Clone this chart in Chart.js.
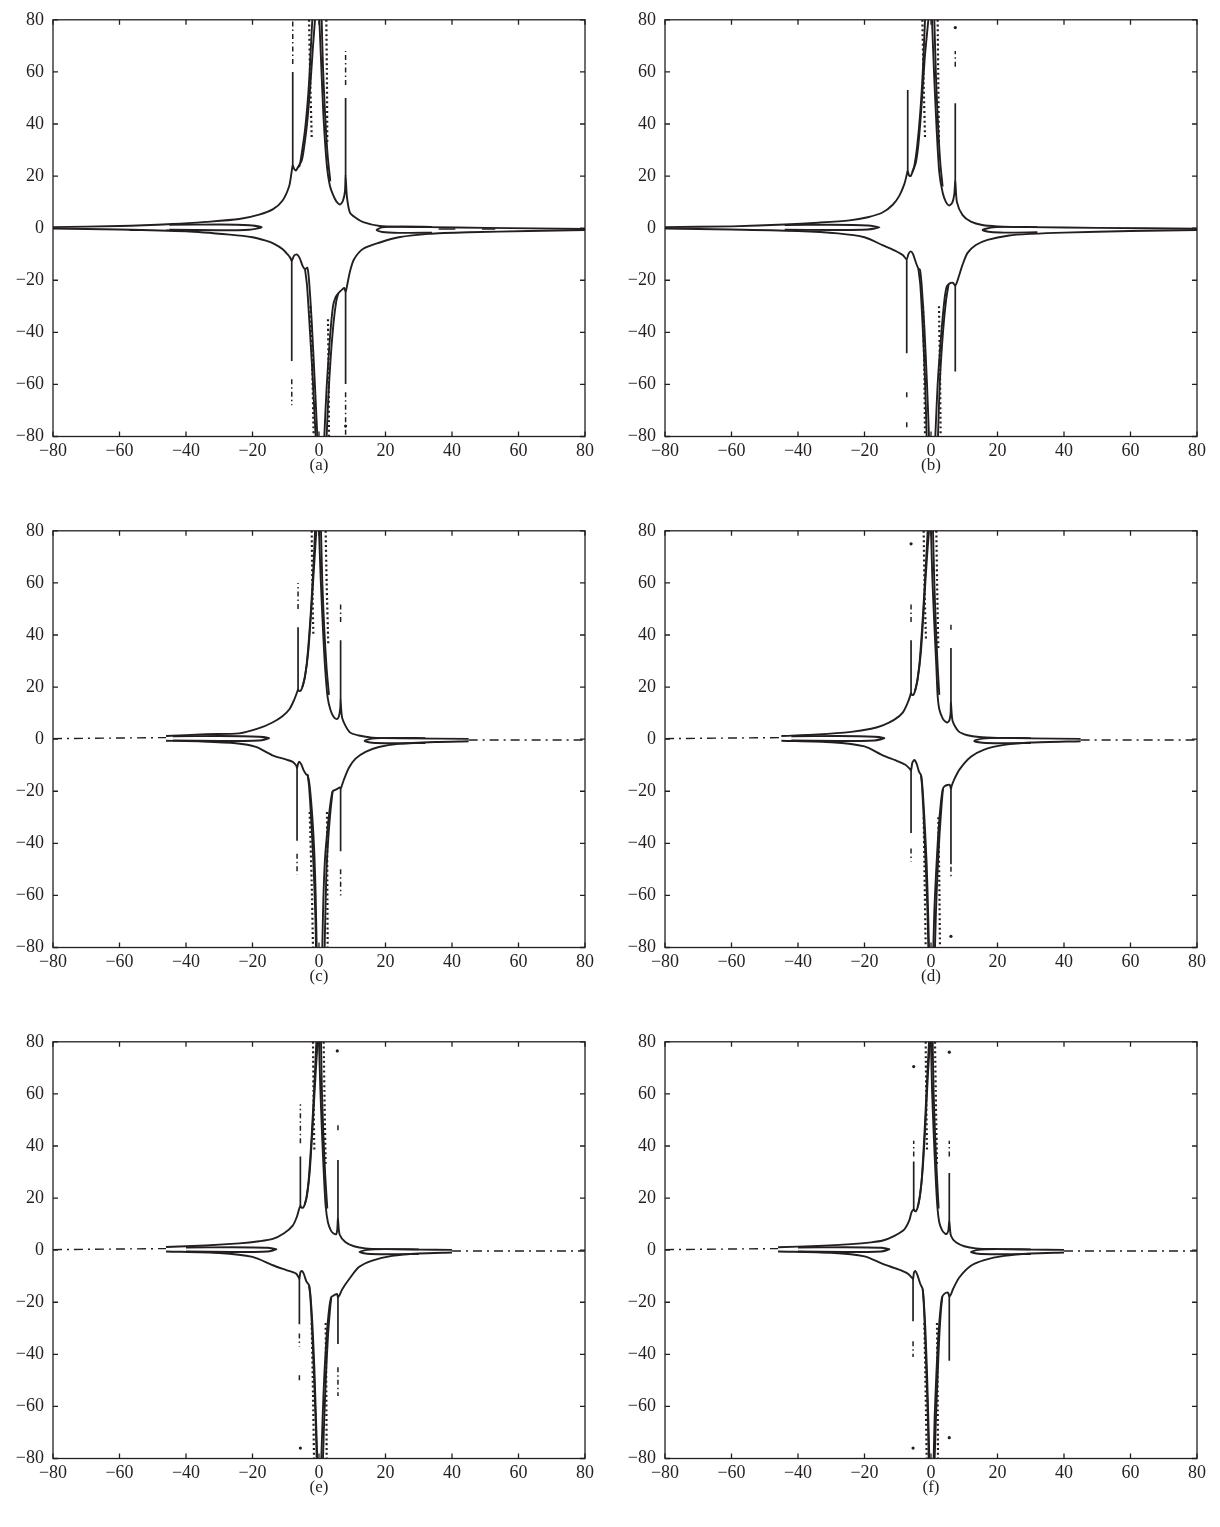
<!DOCTYPE html>
<html>
<head>
<meta charset="utf-8">
<script src="https://cdn.jsdelivr.net/npm/chart.js@4.4.1/dist/chart.umd.min.js"></script>
<style>
body { margin: 0; background: #fff; width: 1220px; height: 1527px; position: relative; font-family: "Liberation Serif", serif; }
canvas { position: absolute; }
.cap { position: absolute; width: 60px; text-align: center; font-family: "Liberation Serif", serif; font-size: 17px; line-height: 20px; color: #231f20; }
</style>
</head>
<body>
<canvas id="pa" width="600" height="469" style="left:0;top:0;width:600px;height:469px"></canvas>
<canvas id="pb" width="600" height="469" style="left:612px;top:0;width:600px;height:469px"></canvas>
<canvas id="pc" width="600" height="469" style="left:0;top:511px;width:600px;height:469px"></canvas>
<canvas id="pd" width="600" height="469" style="left:612px;top:511px;width:600px;height:469px"></canvas>
<canvas id="pe" width="600" height="469" style="left:0;top:1022px;width:600px;height:469px"></canvas>
<canvas id="pf" width="600" height="469" style="left:612px;top:1022px;width:600px;height:469px"></canvas>
<div class="cap" style="left:289px;top:455px">(a)</div>
<div class="cap" style="left:901px;top:455px">(b)</div>
<div class="cap" style="left:289px;top:966px">(c)</div>
<div class="cap" style="left:901px;top:966px">(d)</div>
<div class="cap" style="left:289px;top:1477px">(e)</div>
<div class="cap" style="left:901px;top:1477px">(f)</div>
<script>
// axis ticks, same on both axes and every panel
const tickValues = [-80, -60, -40, -20, 0, 20, 40, 60, 80];

// ---- panel (a)
const aUpperLeft = [[-80,0.4],[-60,0.8],[-44,1.6],[-34,2.4],[-24,3.5],[-18,5.2],[-13.8,7.3],[-11,10.5],[-9,16],[-8.3,21],[-7.9,24],[-7.4,22.6],[-6.9,22.2],[-6.3,23.4],[-5.9,23.8],[-5.4,27],[-4.2,37.8],[-3.2,52],[-2.7,63],[-2.1,78],[-2.0,80]];
const aUpperLeft2 = [[-6.3,23.4],[-5.2,26],[-4.6,30],[-3.6,40],[-2.6,55],[-1.8,70],[-1.2,80]];
const aUpperRight = [[0.1,80],[0.6,65],[1.3,44],[2.3,25],[3.3,16.2],[4.8,11.2],[5.8,9.4],[6.5,9.2],[7.2,10.5],[7.8,14],[8.0,20],[8.4,12],[9.3,6],[11,4],[13.3,2.3],[18.3,0.8],[25,0.5],[33,0.4],[50,0.1],[65,-0.1],[80,-0.3]];
const aUpperRight2 = [[0.8,80],[1.2,62],[1.9,42],[2.6,28],[3.4,18]];
const aLowerLeft = [[-80,-0.2],[-60,-0.5],[-40,-1.2],[-26.8,-2.5],[-20,-3.5],[-16,-4.8],[-13.5,-6],[-11,-8],[-9.5,-10],[-8.6,-11.5],[-8.2,-12.5],[-7.5,-10.6],[-6.7,-10.1],[-5.8,-11.5],[-4.9,-14.6],[-4.2,-15.8],[-3.5,-15.2],[-3.0,-20],[-2.2,-35.7],[-1.2,-61],[-0.5,-80]];
const aLowerLeft2 = [[-4.2,-15.8],[-3.6,-22],[-2.8,-38],[-2.0,-55],[-1.4,-70],[-1.0,-80]];
const aLowerRight = [[80,-0.7],[63,-1.1],[45,-1.6],[33,-2.2],[24,-3.5],[18.3,-5.5],[13.3,-7.9],[10.5,-12],[9.3,-16.7],[8.3,-23],[8.0,-24.5],[7.6,-23],[7.1,-23.4],[5.8,-25],[5.0,-26.5],[4.2,-30],[3.3,-42],[2.3,-61],[1.6,-80]];
const aLowerRight2 = [[5.8,-25],[5.2,-28],[4.4,-36],[3.5,-50],[2.8,-65],[2.3,-80]];
const aLoopLeft = [[-45,1.3],[-30,1.4],[-21,1.1],[-17.2,0.3],[-21,-0.6],[-30,-0.8],[-45,-0.6]];
const aLoopRight = [[34,0.5],[24,0.6],[19,0.3],[17.3,-0.7],[19,-1.5],[24,-1.8],[34,-1.7]];
const aSpikes = [[-7.9,24,60],[8.0,20,50],[-8.2,-12.5,-51],[8.0,-24.5,-59.8]];
const aSpikeDashes = [[-7.9,63,80],[8.0,55,68],[-8.2,-58,-68],[8.0,-63,-80]];
const aDots = [[8.0,-76]];
const aDotted = [[[-3.0,80],[-2.6,55],[-2.2,35]],[[2.2,80],[2.4,55],[2.5,33]],[[-2.6,-30],[-2.0,-55],[-1.6,-80]],[[2.7,-35],[2.9,-55],[3.0,-80]]];
const aMarks = [[-57,-53,-0.8],[-46,-41,-0.8],[36,41,-0.3],[49,53,-0.3]];

// ---- panel (b)
const bUpperLeft = [[-80,0.4],[-60,0.7],[-44,1.4],[-34,2.1],[-24.5,3],[-19,4.2],[-14.6,6],[-11.5,9],[-9.5,12.5],[-8,17],[-7.3,20.5],[-7.0,22],[-6.6,20.2],[-6.1,20],[-5.6,21.5],[-5.0,24],[-4.2,31],[-3.2,45],[-2.4,62],[-1.8,80]];
const bUpperLeft2 = [[-5.6,21.5],[-4.6,25],[-3.8,32],[-2.9,46],[-1.9,65],[-0.8,80]];
const bUpperRight = [[0.3,80],[0.9,60],[1.7,37.8],[2.5,21.3],[3.5,13.7],[4.5,10],[5.5,8.7],[6.4,9.8],[7.0,13],[7.3,18],[7.8,10],[9.5,5],[12,2.5],[15.4,1.2],[20,0.7],[30,0.4],[50,0.1],[80,-0.2]];
const bUpperRight2 = [[1.0,80],[1.5,58],[2.1,40],[2.8,25],[3.5,16]];
const bLowerLeft = [[-80,-0.2],[-60,-0.5],[-40,-1.1],[-28,-2],[-20,-3.5],[-14.6,-6.5],[-11,-8.5],[-8.5,-10.3],[-7.3,-12],[-6.8,-10],[-6.1,-8.9],[-5.4,-10],[-4.6,-13],[-3.8,-15.5],[-3.3,-16],[-2.8,-22],[-2.0,-38],[-1.2,-60],[-0.6,-80]];
const bLowerLeft2 = [[-3.8,-15.5],[-3.2,-22],[-2.5,-38],[-1.8,-58],[-1.3,-80]];
const bLowerRight = [[80,-0.7],[60,-1.1],[40,-1.7],[30,-2.2],[23.5,-2.8],[17,-4.5],[13.5,-6.5],[11,-9.5],[9.5,-14],[8,-20],[7.3,-22],[6.6,-21],[6,-21],[5.3,-21.5],[4.7,-22.5],[4.0,-28],[3.0,-42],[2.0,-60],[1.3,-80]];
const bLowerRight2 = [[5.3,-21.5],[4.5,-28],[3.6,-40],[2.7,-58],[2.1,-80]];
const bLoopLeft = [[-44,1.2],[-30,1.3],[-19,1.0],[-15.5,0.3],[-19,-0.5],[-30,-0.7],[-44,-0.6]];
const bLoopRight = [[32,0.4],[22,0.5],[18,0.2],[15.5,-0.7],[18,-1.5],[22,-1.7],[32,-1.6]];
const bSpikes = [[-7.0,22,53],[7.3,18,48],[-7.3,-12,-48],[7.3,-22,-55]];
const bSpikeDashes = [[7.3,62,68],[-7.3,-63,-66],[-7.3,-74.5,-76.5]];
const bDots = [[7.3,77]];
const bDotted = [[[-2.6,80],[-2.2,55],[-1.8,35]],[[2.0,80],[2.2,55],[2.4,33]],[[-2.4,-30],[-2.0,-55],[-1.8,-80]],[[2.4,-30],[2.7,-55],[2.9,-80]]];

// ---- panel (c)
const cUpperLeft = [[-46,1.2],[-34,1.9],[-24,2.2],[-18,4.2],[-14,6.4],[-11,8.8],[-8.9,11.5],[-7.5,15],[-6.6,18],[-6.3,19],[-6.0,18.5],[-5.5,18.6],[-5.0,20],[-4.4,23],[-3.6,30],[-2.5,48],[-1.6,68],[-1.2,80]];
const cUpperLeft2 = [[-5.0,20],[-4.2,24],[-3.2,34],[-2.3,50],[-1.3,70],[-0.8,80]];
const cUpperRight = [[0.0,80],[0.5,62],[1.2,42],[1.8,28],[2.6,16],[3.5,11],[4.5,8.4],[5.4,7.7],[6.0,8.8],[6.4,12],[6.5,15],[7.0,8],[9.2,2.7],[12,1.4],[16,0.6],[25,0.3],[45,0.1]];
const cUpperRight2 = [[0.6,80],[1.0,60],[1.6,42],[2.3,27],[3.0,17]];
const cLowerLeft = [[-46,-0.6],[-35,-0.9],[-25,-1.6],[-19,-3],[-14,-6.2],[-10,-7.8],[-7.9,-8.7],[-6.9,-10],[-6.6,-11],[-6.3,-9.5],[-6.0,-8.7],[-5.4,-9.5],[-4.6,-12],[-3.8,-13.6],[-3.4,-13.8],[-2.8,-18],[-2.0,-30],[-1.4,-44],[-1.0,-60],[-0.7,-80]];
const cLowerLeft2 = [[-3.4,-13.8],[-3.0,-18],[-2.3,-32],[-1.6,-50],[-1.1,-68],[-0.9,-80]];
const cLowerRight = [[45,-0.8],[35,-1.1],[24,-1.8],[18,-3],[14,-4.9],[11,-7.5],[9,-11],[7.5,-15.5],[6.7,-18.5],[6.5,-19],[6.2,-18.5],[5.6,-19],[4.9,-19.5],[4.1,-20],[3.4,-25],[2.6,-34],[1.8,-46],[1.3,-62],[1.0,-80]];
const cLowerRight2 = [[4.1,-20],[3.5,-27],[2.8,-38],[2.2,-52],[1.7,-80]];
const cLoopLeft = [[-44,1.1],[-30,1.2],[-18,0.9],[-15,0.3],[-18,-0.5],[-30,-0.7],[-44,-0.5]];
const cLoopRight = [[32,0.4],[22,0.5],[16,0.2],[13.7,-0.7],[16,-1.4],[22,-1.6],[32,-1.5]];
const cSpikes = [[-6.3,19,43],[6.5,15,38],[-6.6,-11,-39],[6.5,-19,-43]];
const cSpikeDashes = [[-6.3,50,60],[6.5,45,52],[-6.6,-44,-52],[6.5,-50,-60]];
const cDotted = [[[-2.2,80],[-2.0,60],[-1.7,40]],[[2.0,80],[2.3,60],[2.8,36]],[[-2.8,-28],[-2.2,-55],[-1.8,-80]],[[2.4,-28],[2.5,-55],[2.6,-80]]];
const cTails = [[[-80,0.2],[-46,0.6]],[[45,-0.3],[80,-0.3]]];

// ---- panel (d)
const dUpperLeft = [[-45,1.2],[-34,1.8],[-24,2.8],[-18,4],[-14.5,5.3],[-11,7.5],[-8.5,10.2],[-7,14],[-6.3,16.5],[-6.0,17.8],[-5.8,17],[-5.3,17],[-4.8,18.5],[-4.2,22],[-3.4,30],[-2.4,48],[-1.5,68],[-1.0,80]];
const dUpperLeft2 = [[-4.8,18.5],[-4.0,23],[-3.0,34],[-2.1,52],[-1.2,70],[-0.6,80]];
const dUpperRight = [[0,80],[0.4,62],[1.0,44],[1.6,28],[2.0,16.7],[2.5,11.5],[3.5,8],[4.3,6.8],[5.0,6.4],[5.6,7.5],[5.9,10],[6.0,14],[6.5,7],[8.3,3],[11,1.5],[14.5,0.8],[20,0.5],[30,0.3],[45,0.1]];
const dUpperRight2 = [[0.6,80],[1.0,60],[1.5,42],[2.0,28],[2.5,17]];
const dLowerLeft = [[-45,-0.6],[-30,-1.2],[-20,-2.8],[-14.5,-6.2],[-10,-8.5],[-7.5,-10],[-6.3,-11.5],[-6.0,-12],[-5.6,-9],[-5.0,-8],[-4.3,-9.5],[-3.6,-12.5],[-3.0,-13.8],[-2.6,-18],[-2.0,-30],[-1.3,-48],[-0.9,-65],[-0.6,-80]];
const dLowerLeft2 = [[-3.0,-13.8],[-2.7,-18],[-2.2,-30],[-1.6,-48],[-1.1,-65],[-0.8,-80]];
const dLowerRight = [[45,-0.8],[30,-1.3],[22,-2.2],[16,-4],[12,-6.8],[8.5,-11.8],[6.8,-16],[6.2,-18],[6.0,-19],[5.6,-17.5],[5.0,-17.6],[4.2,-18],[3.6,-19],[3.0,-24],[2.2,-36],[1.5,-52],[1.0,-66],[0.7,-80]];
const dLowerRight2 = [[3.6,-19],[3.2,-25],[2.6,-36],[2.0,-50],[1.5,-66],[1.2,-80]];
const dLoopLeft = [[-42,1.1],[-28,1.2],[-17,0.9],[-14,0.3],[-17,-0.5],[-28,-0.7],[-42,-0.5]];
const dLoopRight = [[30,0.4],[21,0.5],[15.5,0.2],[13,-0.7],[15.5,-1.4],[21,-1.6],[30,-1.5]];
const dSpikes = [[-6.0,17.8,38],[6.0,14,35],[-6.0,-12,-36],[6.0,-19,-48]];
const dSpikeDashes = [[-6.0,45,52],[6.0,42,45],[-6.0,-42,-47],[6.0,-49,-53]];
const dDots = [[-6.0,75],[6.0,-75.7]];
const dDotted = [[[-2.2,80],[-1.9,55],[-1.5,38]],[[1.6,80],[1.9,55],[2.2,35]],[[-2.2,-30],[-1.9,-55],[-1.6,-80]],[[2.2,-30],[2.5,-55],[2.7,-80]]];
const dTails = [[[-80,0.2],[-45,0.6]],[[45,-0.3],[80,-0.3]]];

// ---- panel (e)
const eUpperLeft = [[-46,1.2],[-34,1.8],[-24,2.6],[-18,3.4],[-13.9,4.3],[-10.5,6.5],[-7.9,9.4],[-6.6,13],[-6.0,15.7],[-5.6,17],[-5.3,16.4],[-4.8,16.3],[-4.3,17.5],[-3.8,20],[-3.1,27],[-2.2,44],[-1.3,66],[-0.8,80]];
const eUpperLeft2 = [[-4.3,17.5],[-3.6,21],[-2.8,30],[-1.9,48],[-1.0,68],[-0.4,80]];
const eUpperRight = [[0,80],[0.4,62],[0.9,45],[1.5,28],[2.0,17],[2.7,10.6],[3.6,7.5],[4.4,6.4],[5.2,6.2],[5.5,8],[5.7,12],[6.2,6],[8,3],[10.5,1.5],[14,0.7],[20,0.4],[30,0.2],[40,0.1]];
const eUpperRight2 = [[0.6,80],[0.9,60],[1.4,42],[1.9,28],[2.5,16]];
const eLowerLeft = [[-46,-0.5],[-30,-1.1],[-20,-2.6],[-13.9,-5.8],[-10,-7.6],[-6.9,-9],[-6.1,-10.5],[-5.9,-11],[-5.6,-8.5],[-5.2,-8],[-4.6,-9],[-3.8,-12],[-3.0,-13.4],[-2.6,-17],[-2.0,-28],[-1.4,-45],[-0.9,-65],[-0.5,-80]];
const eLowerLeft2 = [[-3.0,-13.4],[-2.6,-18],[-2.1,-30],[-1.5,-48],[-1.0,-66],[-0.7,-80]];
const eLowerRight = [[40,-0.9],[30,-1.3],[22,-2.2],[16,-4],[12,-6.5],[9.2,-10.9],[7,-15],[6.2,-17.2],[5.7,-18],[5.4,-16.8],[5.0,-17],[4.3,-17.5],[3.7,-18],[3.1,-22],[2.3,-33],[1.6,-48],[1.1,-64],[0.7,-80]];
const eLowerRight2 = [[3.7,-18],[3.3,-23],[2.7,-33],[2.1,-48],[1.6,-64],[1.2,-80]];
const eLoopLeft = [[-40,1.0],[-26,1.1],[-15.5,0.9],[-12.8,0.3],[-15.5,-0.5],[-26,-0.7],[-40,-0.5]];
const eLoopRight = [[30,0.3],[20,0.4],[14.5,0.1],[12.2,-0.7],[14.5,-1.4],[20,-1.6],[30,-1.5]];
const eSpikes = [[-5.6,17,36],[5.7,12,34.6],[-5.9,-11,-28.5],[5.7,-18,-36]];
const eSpikeDashes = [[-5.6,41,56],[5.7,46,49],[-5.9,-32,-37],[-5.9,-48,-50],[5.7,-45,-56]];
const eDots = [[5.5,76.5],[-5.6,-76]];
const eDotted = [[[-1.8,80],[-1.6,55],[-1.4,38]],[[1.4,80],[1.7,55],[2.0,33]],[[-2.2,-28],[-1.8,-55],[-1.5,-80]],[[2.0,-28],[2.2,-55],[2.3,-80]]];
const eTails = [[[-80,0.2],[-46,0.6]],[[40,-0.3],[80,-0.3]]];

// ---- panel (f)
const fUpperLeft = [[-46,1.1],[-34,1.6],[-24,2.3],[-18,3.0],[-14.5,3.7],[-11,5.5],[-8,8],[-6.5,11.5],[-5.9,14.4],[-5.2,15.7],[-4.9,15],[-4.5,15],[-4.0,16.5],[-3.5,19.5],[-2.8,27],[-2.0,44],[-1.2,65],[-0.6,80]];
const fUpperLeft2 = [[-4.0,16.5],[-3.3,21],[-2.5,31],[-1.7,48],[-0.9,68],[-0.3,80]];
const fUpperRight = [[0,80],[0.3,62],[0.8,45],[1.4,28],[1.9,17],[2.5,10.6],[3.4,7.5],[4.2,6.4],[4.7,6.2],[5.2,7.5],[5.5,11],[6.0,5.5],[7.5,3],[10,1.5],[13.5,0.7],[20,0.4],[30,0.2],[40,0.1]];
const fUpperRight2 = [[0.5,80],[0.8,60],[1.3,42],[1.8,28],[2.3,16]];
const fLowerLeft = [[-46,-0.5],[-30,-1.0],[-20,-2.4],[-14.5,-5.3],[-10,-7.3],[-7,-9],[-5.8,-10.5],[-5.4,-11],[-5.1,-8.5],[-4.7,-8],[-4.1,-9.5],[-3.2,-13],[-2.5,-15],[-2.2,-19],[-1.7,-30],[-1.2,-47],[-0.8,-65],[-0.5,-80]];
const fLowerLeft2 = [[-2.5,-15],[-2.2,-20],[-1.8,-32],[-1.3,-50],[-0.9,-67],[-0.7,-80]];
const fLowerRight = [[40,-0.9],[30,-1.3],[22,-2.2],[16,-3.8],[12,-6],[8.5,-10.5],[6.6,-15],[6.0,-17],[5.5,-17.8],[5.2,-16.5],[4.7,-16.3],[4.0,-16.8],[3.4,-17.8],[2.9,-22],[2.2,-33],[1.6,-48],[1.1,-64],[0.8,-80]];
const fLowerRight2 = [[3.4,-17.8],[3.0,-23],[2.5,-33],[2.0,-48],[1.5,-64],[1.1,-80]];
const fLoopLeft = [[-40,1.0],[-26,1.1],[-15,0.9],[-12.5,0.3],[-15,-0.5],[-26,-0.7],[-40,-0.5]];
const fLoopRight = [[30,0.3],[20,0.4],[14.2,0.1],[12,-0.7],[14.2,-1.4],[20,-1.6],[30,-1.5]];
const fSpikes = [[-5.2,15.7,34],[5.5,11,29.6],[-5.4,-11,-27.3],[5.5,-17.8,-42.5]];
const fSpikeDashes = [[-5.2,36,42],[5.5,36,42],[-5.4,-35,-41]];
const fDots = [[-5.2,70.5],[5.5,76],[-5.4,-76],[5.5,-72]];
const fDotted = [[[-1.6,80],[-1.4,55],[-1.2,38]],[[1.2,80],[1.5,55],[1.8,33]],[[-2.0,-28],[-1.6,-55],[-1.3,-80]],[[1.8,-28],[2.0,-55],[2.1,-80]]];
const fTails = [[[-80,0.2],[-46,0.6]],[[40,-0.3],[80,-0.3]]];

const ink = '#231f20';

function line(pts, extra) {
    return Object.assign({
        data: pts.map(p => ({ x: p[0], y: p[1] })),
        showLine: true,
        borderColor: ink,
        borderWidth: 1.9,
        pointRadius: 0,
        tension: 0.25,
        fill: false
    }, extra || {});
}

function panelSets(p) {
    const sets = [];
    p.curves.forEach(c => sets.push(line(c)));
    p.spikes.forEach(s => sets.push(line([[s[0], s[1]], [s[0], s[2]]], { tension: 0, borderWidth: 1.7 })));
    (p.spikeDashes || []).forEach(s => sets.push(line([[s[0], s[1]], [s[0], s[2]]], { tension: 0, borderWidth: 1.5, borderDash: [5, 3, 1.5, 3] })));
    (p.dotted || []).forEach(c => sets.push(line(c, { borderWidth: 2.2, borderDash: [2, 2.8] })));
    (p.tails || []).forEach(c => sets.push(line(c, { tension: 0, borderWidth: 1.4, borderDash: [9, 5, 2, 5] })));
    (p.marks || []).forEach(m => sets.push(line([[m[0], m[2]], [m[1], m[2]]], { tension: 0, borderWidth: 1.4 })));
    if (p.dots && p.dots.length) {
        sets.push({ data: p.dots.map(d => ({ x: d[0], y: d[1] })), showLine: false, pointRadius: 1.6, pointBackgroundColor: ink, pointBorderWidth: 0 });
    }
    return sets;
}

//box with inward ticks on four sides
const framePlugin = {
    id: 'frame',
    afterDraw(chart) {
        const ctx = chart.ctx, a = chart.chartArea, xs = chart.scales.x, ys = chart.scales.y;
        ctx.save();
        ctx.strokeStyle = ink;
        ctx.lineWidth = 1.3;
        ctx.strokeRect(a.left, a.top, a.right - a.left, a.bottom - a.top);
        ctx.beginPath();
        tickValues.forEach(v => {
            const x = xs.getPixelForValue(v), y = ys.getPixelForValue(v);
            ctx.moveTo(x, a.bottom); ctx.lineTo(x, a.bottom - 5);
            ctx.moveTo(x, a.top); ctx.lineTo(x, a.top + 5);
            ctx.moveTo(a.left, y); ctx.lineTo(a.left + 5, y);
            ctx.moveTo(a.right, y); ctx.lineTo(a.right - 5, y);
        });
        ctx.stroke();
        ctx.restore();
    }
};

function fmt(v) {
    return v < 0 ? '\u2212' + Math.abs(v) : String(v);
}

const tickFont = { family: '"Liberation Serif", serif', size: 18 };

function makePanel(id, p) {
    new Chart(document.getElementById(id), {
        type: 'scatter',
        data: { datasets: panelSets(p) },
        options: {
            responsive: false,
            animation: false,
            layout: { padding: { top: 15.5, right: 15, left: 0, bottom: 0 } },
            plugins: { legend: { display: false }, tooltip: { enabled: false } },
            scales: {
                x: {
                    type: 'linear', min: -80, max: 80,
                    afterBuildTicks: s => { s.ticks = tickValues.map(v => ({ value: v })); },
                    ticks: { callback: fmt, font: tickFont, color: ink, padding: 4, maxRotation: 0, autoSkip: false },
                    grid: { display: false, drawTicks: false },
                    border: { display: false },
                    afterFit: s => { s.height = 32.5; }
                },
                y: {
                    type: 'linear', min: -80, max: 80,
                    afterBuildTicks: s => { s.ticks = tickValues.map(v => ({ value: v })); },
                    ticks: { callback: fmt, font: tickFont, color: ink, padding: 9, autoSkip: false },
                    grid: { display: false, drawTicks: false },
                    border: { display: false },
                    afterFit: s => { s.width = 53; }
                }
            }
        },
        plugins: [framePlugin]
    });
}

makePanel('pa', {
    curves: [aUpperLeft, aUpperLeft2, aUpperRight, aUpperRight2, aLowerLeft, aLowerLeft2, aLowerRight, aLowerRight2, aLoopLeft, aLoopRight],
    spikes: aSpikes, spikeDashes: aSpikeDashes, dotted: aDotted, marks: aMarks, dots: aDots
});
makePanel('pb', {
    curves: [bUpperLeft, bUpperLeft2, bUpperRight, bUpperRight2, bLowerLeft, bLowerLeft2, bLowerRight, bLowerRight2, bLoopLeft, bLoopRight],
    spikes: bSpikes, spikeDashes: bSpikeDashes, dotted: bDotted, dots: bDots
});
makePanel('pc', {
    curves: [cUpperLeft, cUpperLeft2, cUpperRight, cUpperRight2, cLowerLeft, cLowerLeft2, cLowerRight, cLowerRight2, cLoopLeft, cLoopRight],
    spikes: cSpikes, spikeDashes: cSpikeDashes, dotted: cDotted, tails: cTails
});
makePanel('pd', {
    curves: [dUpperLeft, dUpperLeft2, dUpperRight, dUpperRight2, dLowerLeft, dLowerLeft2, dLowerRight, dLowerRight2, dLoopLeft, dLoopRight],
    spikes: dSpikes, spikeDashes: dSpikeDashes, dotted: dDotted, tails: dTails, dots: dDots
});
makePanel('pe', {
    curves: [eUpperLeft, eUpperLeft2, eUpperRight, eUpperRight2, eLowerLeft, eLowerLeft2, eLowerRight, eLowerRight2, eLoopLeft, eLoopRight],
    spikes: eSpikes, spikeDashes: eSpikeDashes, dotted: eDotted, tails: eTails, dots: eDots
});
makePanel('pf', {
    curves: [fUpperLeft, fUpperLeft2, fUpperRight, fUpperRight2, fLowerLeft, fLowerLeft2, fLowerRight, fLowerRight2, fLoopLeft, fLoopRight],
    spikes: fSpikes, spikeDashes: fSpikeDashes, dotted: fDotted, tails: fTails, dots: fDots
});
</script>
</body>
</html>
